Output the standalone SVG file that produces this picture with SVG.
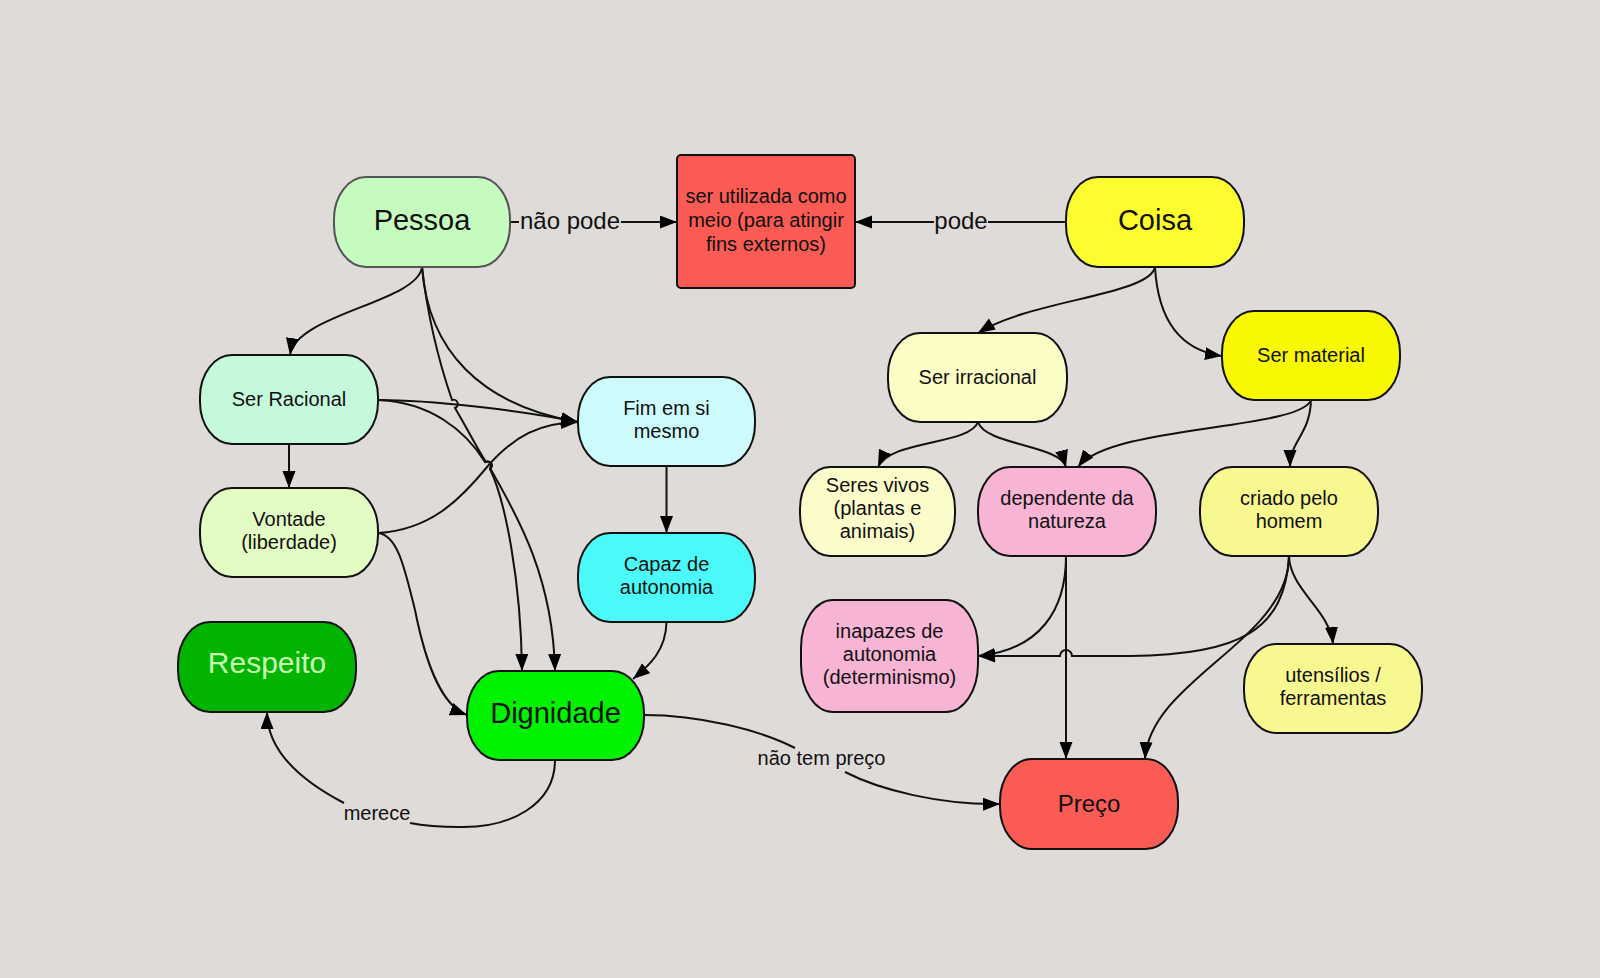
<svg xmlns="http://www.w3.org/2000/svg" width="1600" height="978" viewBox="0 0 1600 978">
<defs>
<marker id="ah" markerUnits="userSpaceOnUse" markerWidth="18" markerHeight="14" refX="17" refY="6.5" orient="auto">
<path d="M0,0 L17,6.5 L0,13 z" fill="#000"/>
</marker>
<style>
.n{stroke:#111;stroke-width:2}
.t{font-family:"Liberation Sans",Arial,sans-serif;font-size:20px;fill:#111;text-anchor:middle}
.b{font-size:29px}
.c{fill:none;stroke:#111;stroke-width:2}
.a{marker-end:url(#ah)}
.l{font-family:"Liberation Sans",Arial,sans-serif;font-size:20px;fill:#111;text-anchor:middle}
</style>
</defs>
<rect width="1600" height="978" fill="#dedbd8"/>

<g id="connectors">
<path class="c" d="M510,222 H519"/>
<path class="c a" d="M621,222 H677"/>
<text class="l" x="570" y="229" style="font-size:24px">não pode</text>
<path class="c" d="M1066,222 H988"/>
<path class="c a" d="M934,222 H855"/>
<text class="l" x="961" y="229" style="font-size:24px">pode</text>

<path class="c a" d="M422,267 C418,302 296,314 290,355"/>
<path class="c a" d="M422,267 C428,350 480,405 578,422"/>
<path class="c a" d="M422,267 C428,320 440,365 452,400 a4,4 0 0 1 3,8 C468,430 478,450 486,462 a4,4 0 0 1 4,7 C505,500 521,580 522,671"/>
<path class="c a" d="M378,400 C430,400 520,410 578,422"/>
<path class="c a" d="M378,400 C430,402 465,430 485,462 a4,4 0 0 1 5,6 C520,520 553,580 555,671"/>
<path class="c a" d="M289,444 V488"/>
<path class="c a" d="M378,533 C430,530 460,500 487,467 C515,435 540,423 578,422"/>
<path class="c a" d="M378,533 C398,535 405,570 415,610 C425,660 440,705 467,715"/>
<path class="c a" d="M666.5,466 V533"/>
<path class="c a" d="M666.5,622 C666,650 650,665 633,679"/>
<path class="c" d="M555,760 C555,805 510,828 460,827 C440,827 425,826 410,823"/>
<path class="c a" d="M344,803 C300,780 267,750 267,712"/>
<text class="l" x="377" y="820">merece</text>
<path class="c" d="M644,715 C700,715 760,730 795,748"/>
<path class="c a" d="M845,772 C880,790 940,805 1000,804"/>
<text class="l" x="821.5" y="765">não tem preço</text>

<path class="c a" d="M1155,267 C1150,295 1030,300 978,333"/>
<path class="c a" d="M1155,267 C1158,320 1180,350 1222,356"/>
<path class="c a" d="M978,422 C970,445 890,440 878,467"/>
<path class="c a" d="M978,422 C985,445 1060,445 1066,467"/>
<path class="c a" d="M1311,400 C1300,430 1110,425 1078,467"/>
<path class="c a" d="M1311,400 C1310,435 1290,440 1290,467"/>
<path class="c a" d="M1066,556 C1066,610 1040,650 978,656"/>
<path class="c a" d="M1066,556 V759"/>
<path class="c a" d="M1289,556 C1285,630 1240,655 1130,656 L1072,656 a6,6 0 0 0 -12,0 L978,656"/>
<path class="c a" d="M1289,556 C1289,640 1150,680 1145,759"/>
<path class="c a" d="M1289,556 C1290,590 1330,610 1333,644"/>
</g>

<g id="pessoa">
<rect class="n" x="334" y="177" width="176" height="90" rx="32" ry="42" fill="#c5fbbf" style="stroke:#555"/>
<text class="t b" x="422" y="229.5">Pessoa</text>
</g>
<g id="meio">
<rect class="n" x="677" y="155" width="178" height="133" rx="4" fill="#fa5b54"/>
<text class="t" x="766" y="203">ser utilizada como</text>
<text class="t" x="766" y="227">meio (para atingir</text>
<text class="t" x="766" y="251">fins externos)</text>
</g>
<g id="coisa">
<rect class="n" x="1066" y="177" width="178" height="90" rx="32" ry="42" fill="#fcfc2e"/>
<text class="t b" x="1155" y="229.5">Coisa</text>
</g>
<g id="ser-racional">
<rect class="n" x="200" y="355" width="178" height="89" rx="32" ry="42" fill="#c4f9dc"/>
<text class="t" x="289" y="406">Ser Racional</text>
</g>
<g id="vontade">
<rect class="n" x="200" y="488" width="178" height="89" rx="32" ry="42" fill="#e3fcc4"/>
<text class="t" x="289" y="525.5">Vontade</text>
<text class="t" x="289" y="548.5">(liberdade)</text>
</g>
<g id="fim">
<rect class="n" x="578" y="377" width="177" height="89" rx="32" ry="42" fill="#cdfbfc"/>
<text class="t" x="666.5" y="414.5">Fim em si</text>
<text class="t" x="666.5" y="437.5">mesmo</text>
</g>
<g id="capaz">
<rect class="n" x="578" y="533" width="177" height="89" rx="32" ry="42" fill="#4bf9f9"/>
<text class="t" x="666.5" y="570.5">Capaz de</text>
<text class="t" x="666.5" y="593.5">autonomia</text>
</g>
<g id="respeito">
<rect class="n" x="178" y="622" width="178" height="90" rx="32" ry="42" fill="#00b400"/>
<text class="t" x="267" y="673" style="font-size:30px;fill:#c9ffb3">Respeito</text>
</g>
<g id="dignidade">
<rect class="n" x="467" y="671" width="177" height="89" rx="32" ry="42" fill="#00f200"/>
<text class="t b" x="555.5" y="722.5">Dignidade</text>
</g>
<g id="ser-irracional">
<rect class="n" x="888" y="333" width="179" height="89" rx="32" ry="42" fill="#fcfcc6"/>
<text class="t" x="977.5" y="384">Ser irracional</text>
</g>
<g id="ser-material">
<rect class="n" x="1222" y="311" width="178" height="89" rx="32" ry="42" fill="#f8f800"/>
<text class="t" x="1311" y="362">Ser material</text>
</g>
<g id="seres-vivos">
<rect class="n" x="800" y="467" width="155" height="89" rx="30" ry="42" fill="#fcfccb"/>
<text class="t" x="877.5" y="492">Seres vivos</text>
<text class="t" x="877.5" y="515">(plantas e</text>
<text class="t" x="877.5" y="538">animais)</text>
</g>
<g id="dependente">
<rect class="n" x="978" y="467" width="178" height="89" rx="32" ry="42" fill="#f8b4d4"/>
<text class="t" x="1067" y="504.5">dependente da</text>
<text class="t" x="1067" y="527.5">natureza</text>
</g>
<g id="criado">
<rect class="n" x="1200" y="467" width="178" height="89" rx="32" ry="42" fill="#f8f890"/>
<text class="t" x="1289" y="504.5">criado pelo</text>
<text class="t" x="1289" y="527.5">homem</text>
</g>
<g id="inapazes">
<rect class="n" x="801" y="600" width="177" height="112" rx="32" ry="48" fill="#f8b4d4"/>
<text class="t" x="889.5" y="637.5">inapazes de</text>
<text class="t" x="889.5" y="660.5">autonomia</text>
<text class="t" x="889.5" y="683.5">(determinismo)</text>
</g>
<g id="utensilios">
<rect class="n" x="1244" y="644" width="178" height="89" rx="32" ry="42" fill="#f8f890"/>
<text class="t" x="1333" y="681.5">utensílios /</text>
<text class="t" x="1333" y="704.5">ferramentas</text>
</g>
<g id="preco">
<rect class="n" x="1000" y="759" width="178" height="90" rx="32" ry="42" fill="#fa5b54"/>
<text class="t" x="1089" y="812" style="font-size:24px">Preço</text>
</g>
</svg>
